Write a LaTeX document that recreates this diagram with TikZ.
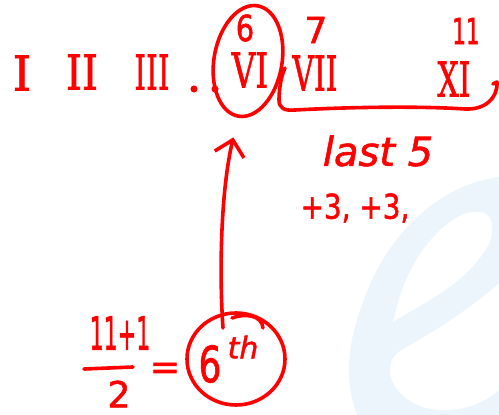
\documentclass[tikz,border=0pt]{standalone}
\usepackage{fontspec}
\usepackage{graphicx}
\usetikzlibrary{arrows.meta,shapes.geometric}
\newfontfamily\romanhand[FakeBold=1.5]{DejaVu Serif}
\newfontfamily\numhand[FakeBold=1.5]{DejaVu Sans}
\newcommand{\squeezed}[2]{\scalebox{#1}[1]{#2}}
\definecolor{pen}{HTML}{FF0000}
\definecolor{wmark}{HTML}{EBF5FB}
\tikzset{stroke/.style={draw=pen,line width=3.6pt,line cap=round,line join=round},
numeral/.style={text=pen,inner sep=0pt,font=\romanhand\fontsize{48}{48}\selectfont},
digit/.style={text=pen,inner sep=0pt,font=\numhand\fontsize{36}{36}\selectfont},
script/.style={text=pen,inner sep=0pt,font=\numhand\itshape\fontsize{40}{40}\selectfont}}

\begin{document}
\begin{tikzpicture}[x=1pt,y=-1pt]
\useasboundingbox (0,0) rectangle (499,415);
% watermark
\fill[wmark,even odd rule] (499,177) .. controls (440,185) and (395,230) .. (372,280)
  .. controls (352,325) and (340,370) .. (357,415) -- (499,415) -- (499,390)
  .. controls (480,408) and (450,413) .. (430,409) .. controls (405,404) and (388,385) .. (390,367)
  .. controls (391,358) and (397,352) .. (405,348) .. controls (440,328) and (475,305) .. (499,283) -- cycle
  (393,322) .. controls (400,290) and (412,258) .. (437,233) .. controls (450,220) and (465,210) .. (480,212)
  .. controls (495,213) and (495,232) .. (488,246) .. controls (465,285) and (425,302) .. (393,322) -- cycle;
% numerals along the top
\node[numeral] (one) at (22,73) {I};
\node[numeral] (two) at (82,72) {\squeezed{.85}{II}};
\node[numeral] (three) at (152,72) {\squeezed{.62}{III}};
\node[numeral] (dota) at (194,89) {.};
\node[numeral] (dotb) at (215,89) {.};
\node[digit] (sixnum) at (245,28) {\squeezed{.8}{6}};
\node[numeral] (six) at (250,70) {\squeezed{.68}{VI}};
\node[digit] (sevennum) at (316,30) {7};
\node[numeral] (seven) at (315,73) {\squeezed{.62}{VII}};
\node[digit] (elevennum) at (466,31) {\squeezed{.6}{11}};
\node[numeral] (eleven) at (454,79) {\squeezed{.62}{XI}};
\node[stroke,ellipse,minimum width=68pt,minimum height=112pt,rotate=-10] (sixring) at (248,61) {};
% bracket under the last five
\coordinate (bracketa) at (285,68);
\coordinate (bracketb) at (497,82);
\draw[stroke] (bracketa) .. controls (281,76) and (279,90) .. (279,100)
  .. controls (279,108) and (284,111) .. (295,110) .. controls (350,107) and (420,106) .. (465,109)
  .. controls (485,110) and (498,98) .. (497,82) -- (493,84);
\node[script] (lastfive) at (378,151) {last 5};
\node[digit,font=\numhand\fontsize{34}{34}\selectfont] (plusthree) at (355,208) {\squeezed{.82}{+3, +3,}};
% sum and answer
\node[digit,font=\numhand\fontsize{46}{46}\selectfont] (sumtop) at (120,333) {\squeezed{.48}{11+1}};
\node[digit] (sumbot) at (119,394) {2};
\coordinate (bara) at (84,369);
\coordinate (barb) at (133,367);
\draw[stroke] (bara) -- (barb);
\node[digit] (equals) at (165,371) {=};
\node[stroke,ellipse,minimum width=98pt,minimum height=92pt,inner sep=0pt] (dayring) at (236,359) {};
\node[digit,font=\numhand\fontsize{50}{50}\selectfont] (daynum) at (210,364) {\squeezed{.72}{6}};
\node[script,font=\numhand\itshape\fontsize{30}{30}\selectfont] (daysup) at (243,347) {th};
\draw[stroke] (232,318) .. controls (245,313) and (262,315) .. (263,328);
% arrow up to the ring
\draw[stroke,shorten <=-15pt,shorten >=20pt,-{Straight Barb[length=15pt,width=30pt]}] (dayring.107)
  .. controls (219,270) and (221,190) .. (sixring.south);
\end{tikzpicture}
\end{document}
